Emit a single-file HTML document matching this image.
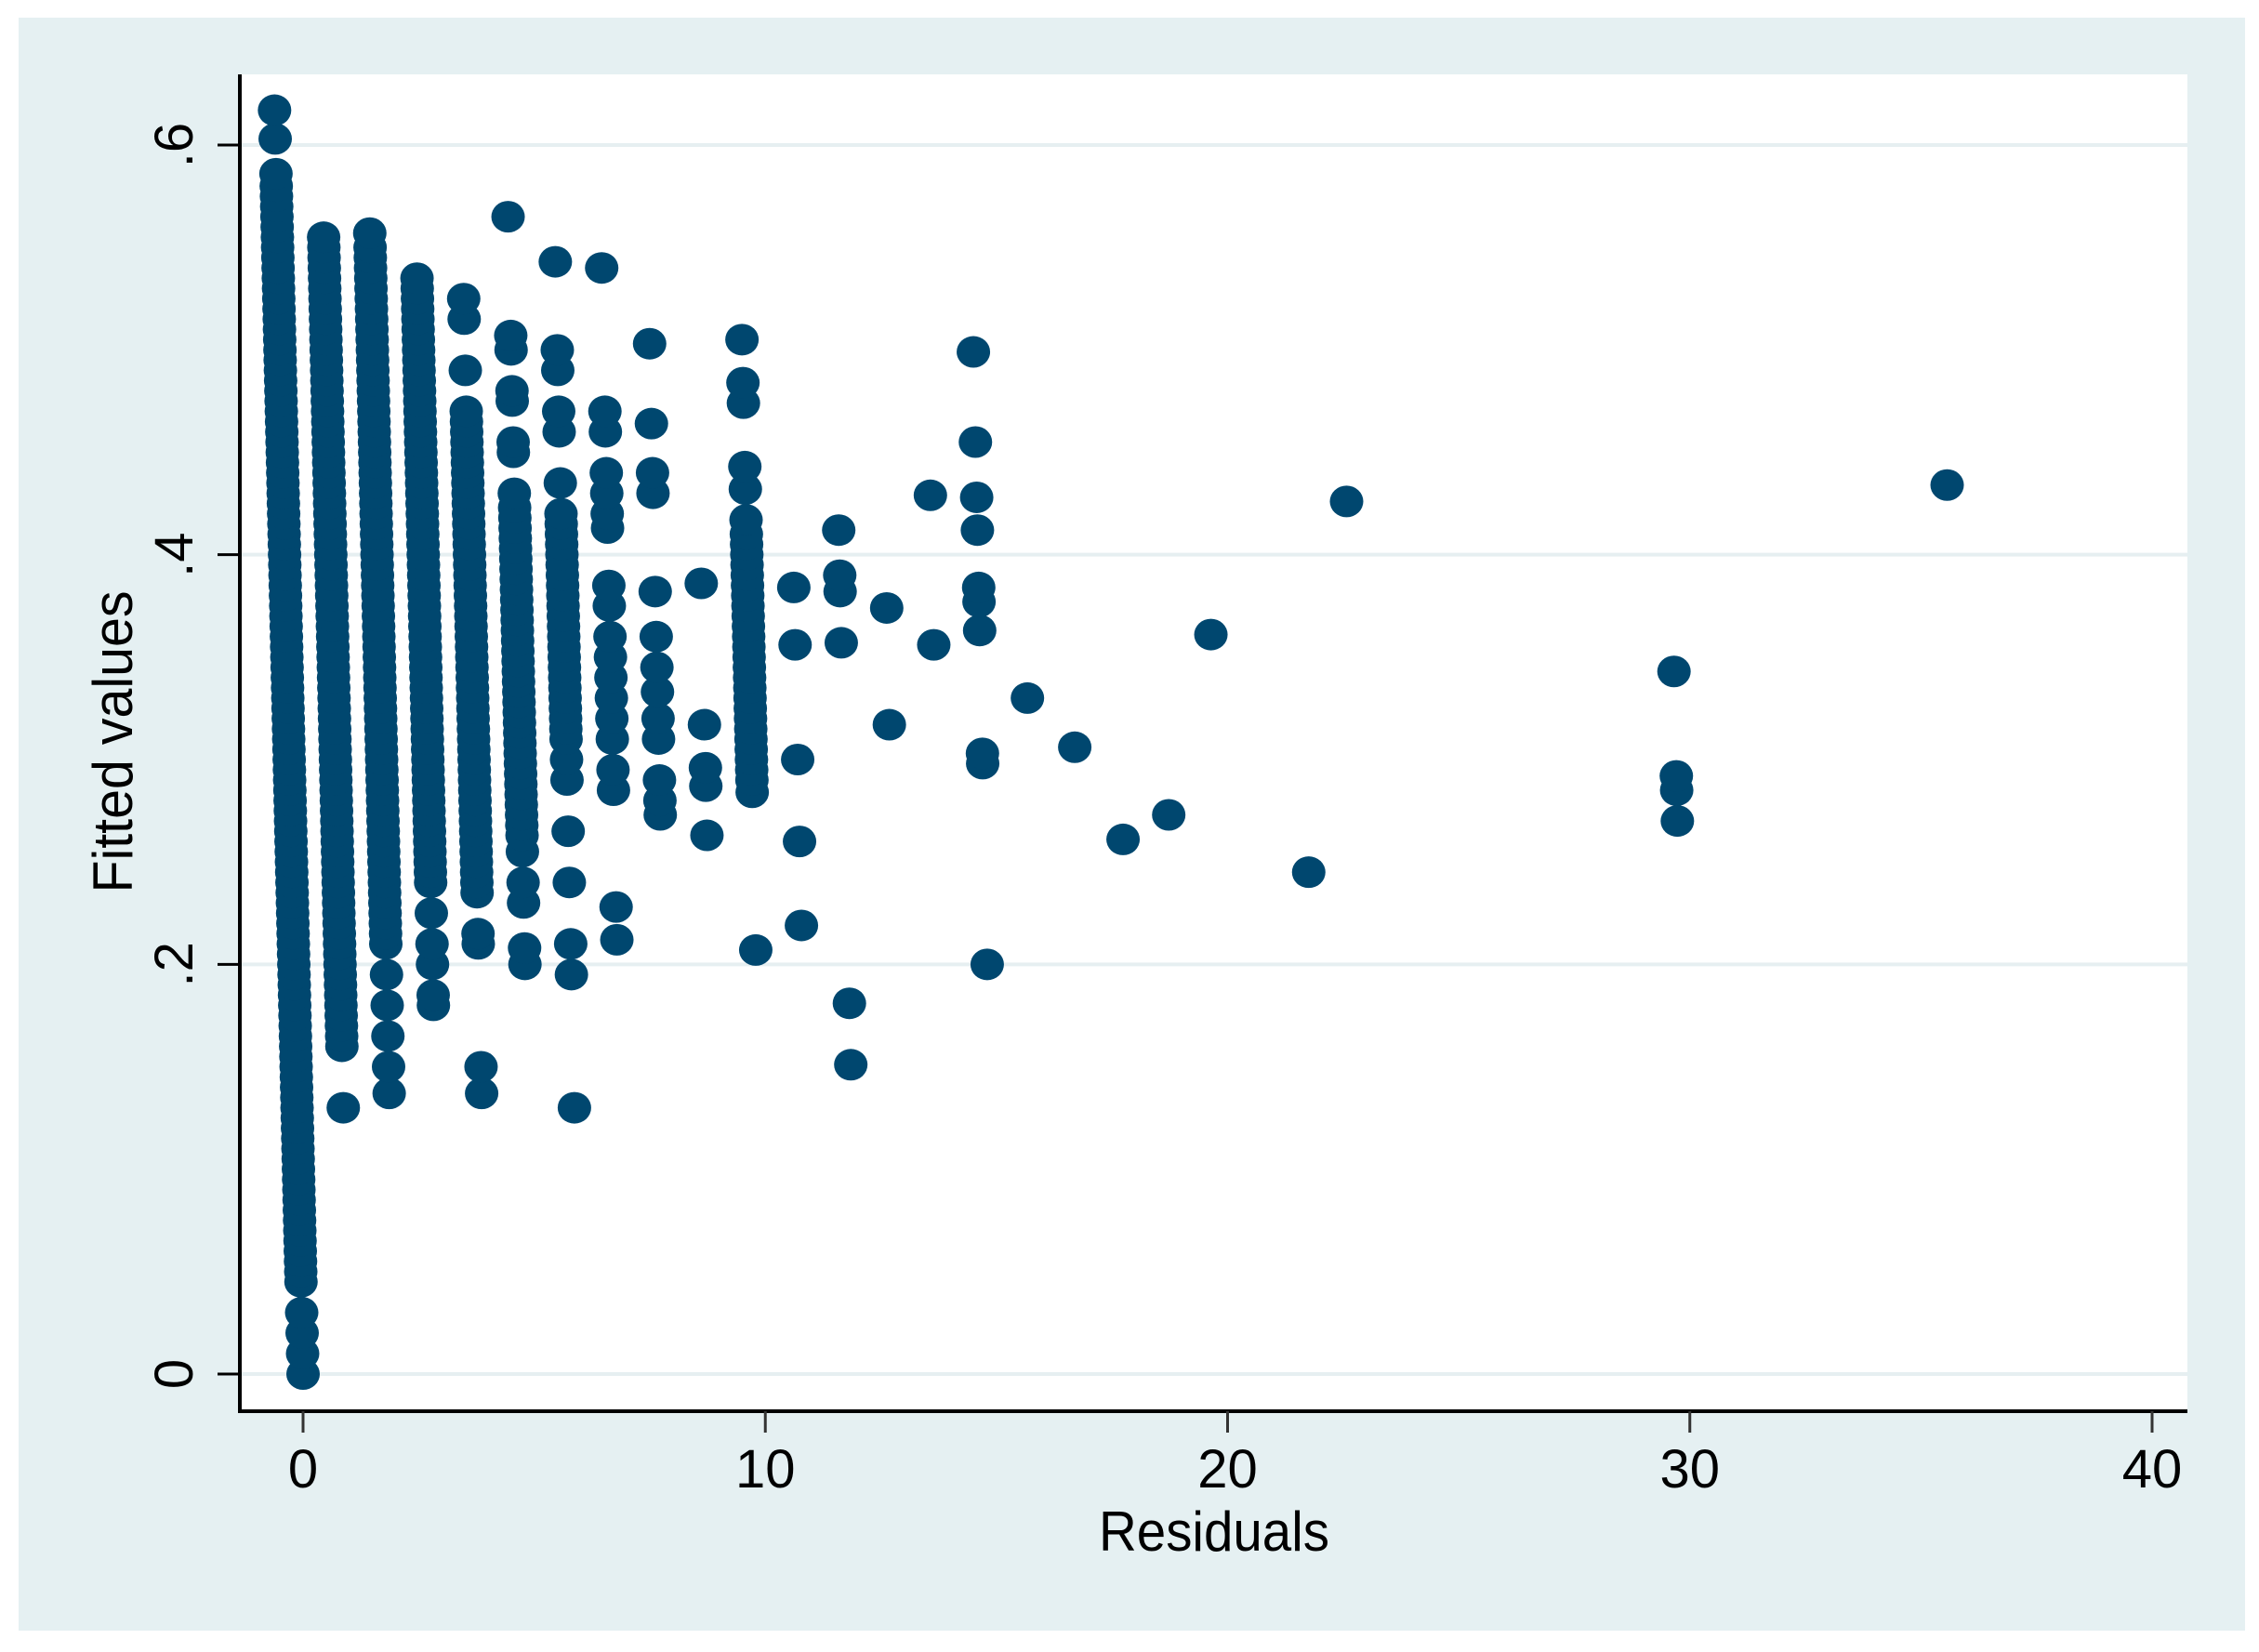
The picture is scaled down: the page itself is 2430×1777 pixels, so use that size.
<!DOCTYPE html>
<html><head><meta charset="utf-8"><style>
html,body{margin:0;padding:0;background:#fff;}
svg{display:block;}
text{font-family:"Liberation Sans",Arial,sans-serif;fill:#000;}
</style></head><body>
<svg id="chart" width="2430" height="1777" viewBox="0 0 2430 1777" xmlns="http://www.w3.org/2000/svg">
<rect x="20" y="19" width="2395" height="1735" fill="#e5f0f2"/>
<rect x="258" y="80" width="2095" height="1438" fill="#ffffff"/>
<g id="grid"></g>
<g id="points"></g>
<g id="axes"></g>
<text x="1306" y="1668" font-size="60" text-anchor="middle" textLength="248" lengthAdjust="spacingAndGlyphs">Residuals</text>
<text transform="translate(142,798) rotate(-90)" font-size="60" text-anchor="middle" textLength="325" lengthAdjust="spacingAndGlyphs">Fitted values</text>
</svg>
<script>
const xTicks = [0, 10, 20, 30, 40];
const xTickLabels = ["0", "10", "20", "30", "40"];
const yTicks = [0, 0.2, 0.4, 0.6];
const yTickLabels = ["0", ".2", ".4", ".6"];
const observedCounts = [0,1,2,3,4,5,6,7,8,9,10,11,12,13,14,15,16,17,18,19,20,22,23,30,36];
const fittedByCount = [
 [0,0.01,0.02,0.03,0.045,0.05,0.055,0.06,0.065,0.07,0.075,0.08,0.085,0.09,0.095,0.1,0.105,0.11,0.115,0.12,0.125,0.13,0.135,0.14,0.145,0.15,0.155,0.16,0.165,0.17,0.175,0.18,0.185,0.19,0.195,0.2,0.205,0.21,0.215,0.22,0.225,0.23,0.235,0.24,0.245,0.25,0.255,0.26,0.265,0.27,0.275,0.28,0.285,0.29,0.295,0.3,0.305,0.31,0.315,0.32,0.325,0.33,0.335,0.34,0.345,0.35,0.355,0.36,0.365,0.37,0.375,0.38,0.385,0.39,0.395,0.4,0.405,0.41,0.415,0.42,0.425,0.43,0.435,0.44,0.445,0.45,0.455,0.46,0.465,0.47,0.475,0.48,0.485,0.49,0.495,0.5,0.505,0.51,0.515,0.52,0.525,0.53,0.535,0.54,0.545,0.55,0.555,0.56,0.565,0.57,0.575,0.58,0.586,0.603,0.617],
 [0.13,0.16,0.165,0.17,0.175,0.18,0.185,0.19,0.195,0.2,0.205,0.21,0.215,0.22,0.225,0.23,0.235,0.24,0.245,0.25,0.255,0.26,0.265,0.27,0.275,0.28,0.285,0.29,0.295,0.3,0.305,0.31,0.315,0.32,0.325,0.33,0.335,0.34,0.345,0.35,0.355,0.36,0.365,0.37,0.375,0.38,0.385,0.39,0.395,0.4,0.405,0.41,0.415,0.42,0.425,0.43,0.435,0.44,0.445,0.45,0.455,0.46,0.465,0.47,0.475,0.48,0.485,0.49,0.495,0.5,0.505,0.51,0.515,0.52,0.525,0.53,0.535,0.54,0.545,0.55,0.555],
 [0.137,0.15,0.165,0.18,0.195,0.21,0.215,0.22,0.225,0.23,0.235,0.24,0.245,0.25,0.255,0.26,0.265,0.27,0.275,0.28,0.285,0.29,0.295,0.3,0.305,0.31,0.315,0.32,0.325,0.33,0.335,0.34,0.345,0.35,0.355,0.36,0.365,0.37,0.375,0.38,0.385,0.39,0.395,0.4,0.405,0.41,0.415,0.42,0.425,0.43,0.435,0.44,0.445,0.45,0.455,0.46,0.465,0.47,0.475,0.48,0.485,0.49,0.495,0.5,0.505,0.51,0.515,0.52,0.525,0.53,0.535,0.54,0.545,0.55,0.557],
 [0.18,0.185,0.2,0.21,0.225,0.24,0.245,0.25,0.255,0.26,0.265,0.27,0.275,0.28,0.285,0.29,0.295,0.3,0.305,0.31,0.315,0.32,0.325,0.33,0.335,0.34,0.345,0.35,0.355,0.36,0.365,0.37,0.375,0.38,0.385,0.39,0.395,0.4,0.405,0.41,0.415,0.42,0.425,0.43,0.435,0.44,0.445,0.45,0.455,0.46,0.465,0.47,0.475,0.48,0.485,0.49,0.495,0.5,0.505,0.51,0.515,0.52,0.525,0.53,0.535],
 [0.137,0.15,0.21,0.215,0.235,0.24,0.245,0.25,0.255,0.26,0.265,0.27,0.275,0.28,0.285,0.29,0.295,0.3,0.305,0.31,0.315,0.32,0.325,0.33,0.335,0.34,0.345,0.35,0.355,0.36,0.365,0.37,0.375,0.38,0.385,0.39,0.395,0.4,0.405,0.41,0.415,0.42,0.425,0.43,0.435,0.44,0.445,0.45,0.455,0.46,0.465,0.47,0.49,0.515,0.525],
 [0.2,0.208,0.23,0.24,0.255,0.263,0.268,0.273,0.278,0.283,0.288,0.293,0.298,0.303,0.308,0.313,0.318,0.323,0.328,0.333,0.338,0.343,0.348,0.353,0.358,0.363,0.368,0.373,0.378,0.383,0.388,0.393,0.398,0.403,0.408,0.413,0.418,0.423,0.43,0.45,0.455,0.475,0.48,0.5,0.507,0.565],
 [0.13,0.195,0.21,0.24,0.265,0.29,0.3,0.31,0.315,0.32,0.325,0.33,0.335,0.34,0.345,0.35,0.355,0.36,0.365,0.37,0.375,0.38,0.385,0.39,0.395,0.4,0.405,0.41,0.415,0.42,0.435,0.46,0.47,0.49,0.5,0.543],
 [0.212,0.228,0.285,0.295,0.31,0.32,0.33,0.34,0.35,0.36,0.375,0.385,0.413,0.42,0.43,0.44,0.46,0.47,0.54],
 [0.273,0.28,0.29,0.31,0.32,0.333,0.345,0.36,0.382,0.43,0.44,0.464,0.503],
 [0.263,0.287,0.296,0.317,0.386],
 [0.207,0.284,0.29,0.295,0.3,0.305,0.31,0.315,0.32,0.325,0.33,0.335,0.34,0.345,0.35,0.355,0.36,0.365,0.37,0.375,0.38,0.385,0.39,0.395,0.4,0.405,0.41,0.417,0.432,0.443,0.474,0.484,0.505],
 [0.219,0.26,0.3,0.356,0.384],
 [0.151,0.181,0.357,0.382,0.39,0.412],
 [0.317,0.374],
 [0.356,0.429],
 [0.2,0.298,0.303,0.363,0.377,0.384,0.412,0.428,0.455,0.499],
 [0.33],
 [0.306],
 [0.261],
 [0.273],
 [0.361],
 [0.245],
 [0.426],
 [0.27,0.285,0.292,0.343],
 [0.434]
];
const NS = "http://www.w3.org/2000/svg";
const plotLeft = 258, plotRight = 2353, plotTop = 80, plotBottom = 1518;
function xScale(v){ return 326 + v * (2315 - 326) / 40; }
function yScale(v){ return 1478 - v * (1478 - 156) / 0.6; }
function mk(tag, attrs, parent){ const e = document.createElementNS(NS, tag); for (const k in attrs) e.setAttribute(k, attrs[k]); parent.appendChild(e); return e; }
const grid = document.getElementById('grid');
const pts = document.getElementById('points');
const axes = document.getElementById('axes');
yTicks.forEach((t, i) => {
  const y = yScale(t);
  const g = mk('line', {x1: plotLeft, x2: plotRight, y1: y, y2: y, stroke: '#e6eff1', 'stroke-width': 4}, grid);
  
  
  const tk = mk('line', {x1: 234, x2: plotLeft, y1: y, y2: y, stroke: '#000', 'stroke-width': 3}, axes);
  
  
  const lb = mk('text', {transform: 'translate(207,' + y + ') rotate(-90)', 'font-size': 58, 'text-anchor': 'middle'}, axes);
  lb.textContent = yTickLabels[i];
  
  
});
observedCounts.forEach((c, gi) => {
  fittedByCount[gi].forEach(f => {
    const p = mk('ellipse', {cx: xScale(c - f), cy: yScale(f), rx: 18, ry: 17, fill: '#00476f'}, pts);
    
    
  });
});
const yAxis = mk('line', {x1: plotLeft, x2: plotLeft, y1: plotTop, y2: plotBottom + 2, stroke: '#000', 'stroke-width': 4}, axes);


const xAxis = mk('line', {x1: plotLeft - 2, x2: plotRight, y1: plotBottom, y2: plotBottom, stroke: '#000', 'stroke-width': 4}, axes);


xTicks.forEach((t, i) => {
  const x = xScale(t);
  const tk = mk('line', {x1: x, x2: x, y1: plotBottom, y2: 1541, stroke: '#333', 'stroke-width': 3}, axes);
  
  
  const lb = mk('text', {x: x, y: 1600, 'font-size': 58, 'text-anchor': 'middle'}, axes);
  lb.textContent = xTickLabels[i];
  
  
});
</script>
</body></html>
